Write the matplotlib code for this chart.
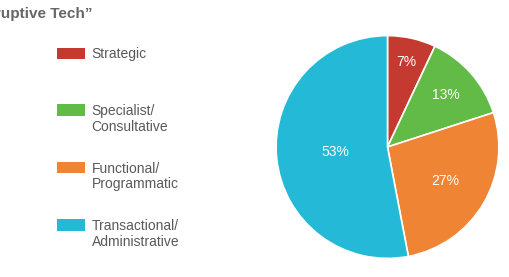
import matplotlib
matplotlib.use("Agg")
import matplotlib.pyplot as plt
from matplotlib.patches import Rectangle
import numpy as np

plt.rcParams['font.family'] = ['Liberation Sans', 'DejaVu Sans']

# data
categories = ["Strategic", "Specialist/\nConsultative", "Functional/\nProgrammatic",
              "Transactional/\nAdministrative"]
shares = [7, 13, 27, 53]
pct_labels = ["7%", "13%", "27%", "53%"]
colors = ["#c43a31", "#62bb47", "#ef8434", "#24b9d6"]

# label radius (fraction of pie radius) per slice
label_r = [0.78, 0.70, 0.60, 0.47]

W, H = 510, 277
fig = plt.figure(figsize=(W / 100, H / 100), dpi=100)

def fx(px):
    return px / W

def fy(py):
    return 1 - py / H

# pie
ax = fig.add_axes([fx(275), fy(259.5), 225 / W, 225 / H])
wedges, _ = ax.pie(shares, colors=colors, startangle=90, counterclock=False,
                   wedgeprops=dict(edgecolor="white", linewidth=1.2))
for w, lab, r in zip(wedges, pct_labels, label_r):
    mid = np.deg2rad((w.theta1 + w.theta2) / 2)
    ax.text(r * np.cos(mid), r * np.sin(mid), lab, color="white", fontsize=10,
            ha="center", va="center")
ax.set_xlim(-1.01, 1.01)
ax.set_ylim(-1.01, 1.01)
ax.set_aspect("equal")
ax.axis("off")

# title (cut off at left edge, as in the source)
fig.text(fx(93), fy(18), "Disruptive Tech\u201d", ha="right", va="baseline",
         fontsize=11, fontweight="bold", color="#666666")

# legend
patch_top = [47.7, 104.5, 161.8, 219.3]
line_h = 16
for c, lab, top in zip(colors, categories, patch_top):
    fig.add_artist(Rectangle((fx(57), fy(top + 11.5)), 28 / W, 11.5 / H,
                             transform=fig.transFigure, facecolor=c,
                             edgecolor="none"))
    nlines = lab.count("\n") + 1
    # va="baseline" on multiline text anchors the last line
    fig.text(fx(91.5), fy(top + 10.5 + line_h * (nlines - 1)), lab,
             ha="left", va="baseline", fontsize=10, color="#595959",
             linespacing=1.15)

fig.savefig("out.png", dpi=100)
